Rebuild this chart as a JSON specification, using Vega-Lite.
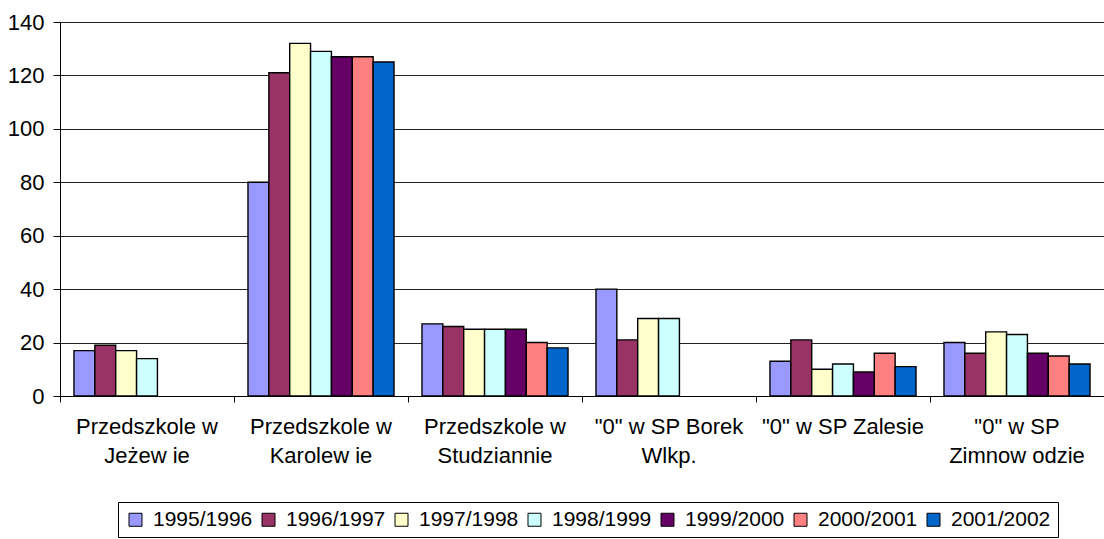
{
  "$schema": "https://vega.github.io/schema/vega-lite/v6.json",
  "autosize": "none",
  "width": 1044,
  "height": 374,
  "padding": {"left": 60, "top": 22, "right": 0, "bottom": 143},
  "background": "white",
  "config": {
    "view": {"stroke": null},
    "font": "Liberation Sans",
    "axis": {"labelFont": "Liberation Sans", "labelColor": "black", "domainColor": "black", "tickColor": "black"},
    "legend": {"strokeWidth": 1}
  },
  "data": {
    "values": [
      {"school": "Przedszkole w|Jeżew ie", "year": "1995/1996", "value": 17},
      {"school": "Przedszkole w|Jeżew ie", "year": "1996/1997", "value": 19},
      {"school": "Przedszkole w|Jeżew ie", "year": "1997/1998", "value": 17},
      {"school": "Przedszkole w|Jeżew ie", "year": "1998/1999", "value": 14},
      {"school": "Przedszkole w|Karolew ie", "year": "1995/1996", "value": 80},
      {"school": "Przedszkole w|Karolew ie", "year": "1996/1997", "value": 121},
      {"school": "Przedszkole w|Karolew ie", "year": "1997/1998", "value": 132},
      {"school": "Przedszkole w|Karolew ie", "year": "1998/1999", "value": 129},
      {"school": "Przedszkole w|Karolew ie", "year": "1999/2000", "value": 127},
      {"school": "Przedszkole w|Karolew ie", "year": "2000/2001", "value": 127},
      {"school": "Przedszkole w|Karolew ie", "year": "2001/2002", "value": 125},
      {"school": "Przedszkole w|Studziannie", "year": "1995/1996", "value": 27},
      {"school": "Przedszkole w|Studziannie", "year": "1996/1997", "value": 26},
      {"school": "Przedszkole w|Studziannie", "year": "1997/1998", "value": 25},
      {"school": "Przedszkole w|Studziannie", "year": "1998/1999", "value": 25},
      {"school": "Przedszkole w|Studziannie", "year": "1999/2000", "value": 25},
      {"school": "Przedszkole w|Studziannie", "year": "2000/2001", "value": 20},
      {"school": "Przedszkole w|Studziannie", "year": "2001/2002", "value": 18},
      {"school": "\"0\" w  SP Borek|Wlkp.", "year": "1995/1996", "value": 40},
      {"school": "\"0\" w  SP Borek|Wlkp.", "year": "1996/1997", "value": 21},
      {"school": "\"0\" w  SP Borek|Wlkp.", "year": "1997/1998", "value": 29},
      {"school": "\"0\" w  SP Borek|Wlkp.", "year": "1998/1999", "value": 29},
      {"school": "\"0\" w  SP Zalesie", "year": "1995/1996", "value": 13},
      {"school": "\"0\" w  SP Zalesie", "year": "1996/1997", "value": 21},
      {"school": "\"0\" w  SP Zalesie", "year": "1997/1998", "value": 10},
      {"school": "\"0\" w  SP Zalesie", "year": "1998/1999", "value": 12},
      {"school": "\"0\" w  SP Zalesie", "year": "1999/2000", "value": 9},
      {"school": "\"0\" w  SP Zalesie", "year": "2000/2001", "value": 16},
      {"school": "\"0\" w  SP Zalesie", "year": "2001/2002", "value": 11},
      {"school": "\"0\" w  SP|Zimnow odzie", "year": "1995/1996", "value": 20},
      {"school": "\"0\" w  SP|Zimnow odzie", "year": "1996/1997", "value": 16},
      {"school": "\"0\" w  SP|Zimnow odzie", "year": "1997/1998", "value": 24},
      {"school": "\"0\" w  SP|Zimnow odzie", "year": "1998/1999", "value": 23},
      {"school": "\"0\" w  SP|Zimnow odzie", "year": "1999/2000", "value": 16},
      {"school": "\"0\" w  SP|Zimnow odzie", "year": "2000/2001", "value": 15},
      {"school": "\"0\" w  SP|Zimnow odzie", "year": "2001/2002", "value": 12}
    ]
  },
  "mark": {"type": "bar", "stroke": "black", "strokeWidth": 1.4},
  "encoding": {
    "x": {
      "field": "school",
      "type": "nominal",
      "sort": ["Przedszkole w|Jeżew ie", "Przedszkole w|Karolew ie", "Przedszkole w|Studziannie", "\"0\" w  SP Borek|Wlkp.", "\"0\" w  SP Zalesie", "\"0\" w  SP|Zimnow odzie"],
      "scale": {"paddingInner": 0, "paddingOuter": 0},
      "axis": {
        "title": null,
        "bandPosition": 0,
        "labelDx": 88,
        "labelAngle": 0,
        "labelAlign": "center",
        "labelBaseline": "top",
        "labelFontSize": 22,
        "labelLineHeight": 29,
        "labelPadding": 14,
        "labelOverlap": false,
        "labelBound": false,
        "labelLimit": 300,
        "labelExpr": "split(datum.label, '|')",
        "tickSize": 6,
        "domainColor": "black",
        "grid": false
      }
    },
    "xOffset": {
      "field": "year",
      "type": "nominal",
      "scale": {"paddingInner": 0, "paddingOuter": 0.67}
    },
    "y": {
      "field": "value",
      "type": "quantitative",
      "scale": {"domain": [0, 140], "nice": false},
      "axis": {
        "title": null,
        "values": [0, 20, 40, 60, 80, 100, 120, 140],
        "labelFontSize": 22,
        "labelPadding": 9,
        "tickSize": 7,
        "grid": true,
        "gridColor": "#222222",
        "gridWidth": 1,
        "domainColor": "black"
      }
    },
    "fill": {
      "field": "year",
      "type": "nominal",
      "scale": {
        "domain": ["1995/1996", "1996/1997", "1997/1998", "1998/1999", "1999/2000", "2000/2001", "2001/2002"],
        "range": ["#9999FF", "#993366", "#FFFFCC", "#CCFFFF", "#660066", "#FF8080", "#0066CC"]
      },
      "legend": {
        "title": null,
        "orient": "none",
        "legendX": 58,
        "legendY": 480,
        "direction": "horizontal",
        "columns": 7,
        "symbolType": "square",
        "symbolSize": 169,
        "symbolStrokeColor": "black",
        "symbolStrokeWidth": 1,
        "labelFont": "Liberation Sans",
        "labelFontSize": 21,
        "labelColor": "black",
        "labelOffset": 7,
        "labelLimit": 200,
        "columnPadding": 5,
        "padding": 7,
        "strokeColor": "black",
        "fillColor": "white"
      }
    }
  }
}
